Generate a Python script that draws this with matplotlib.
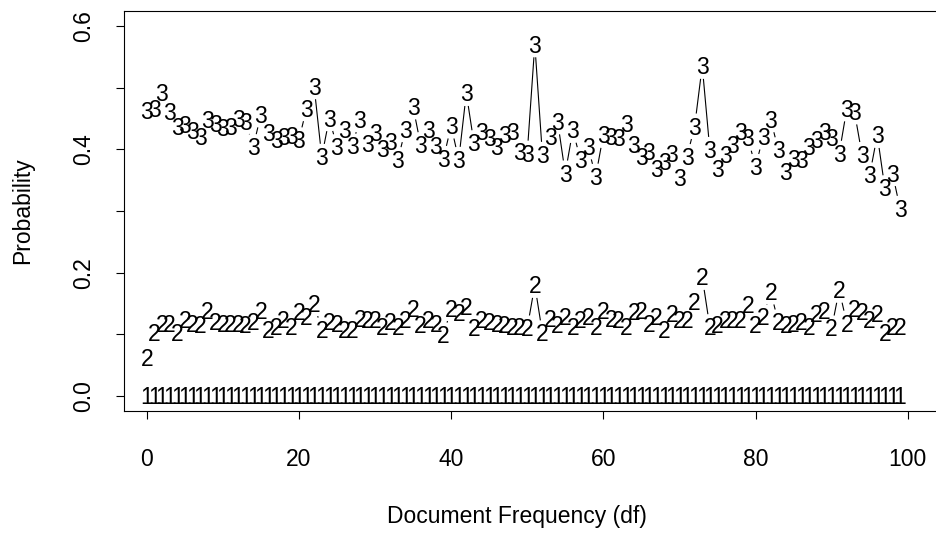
import numpy as np
import matplotlib
matplotlib.use("Agg")
import matplotlib.pyplot as plt
from matplotlib.collections import LineCollection
from matplotlib.transforms import offset_copy

plt.rcParams['font.family'] = ['Liberation Sans', 'DejaVu Sans']

df = np.arange(100)
p1 = [0.0] * 100
p2 = [0.062, 0.102, 0.118, 0.117, 0.102, 0.123, 0.118, 0.115, 0.139, 0.120,
      0.118, 0.118, 0.117, 0.115, 0.120, 0.139, 0.107, 0.112, 0.123, 0.112,
      0.137, 0.128, 0.150, 0.107, 0.120, 0.118, 0.107, 0.107, 0.126, 0.123,
      0.123, 0.112, 0.120, 0.112, 0.123, 0.142, 0.115, 0.123, 0.118, 0.099,
      0.142, 0.135, 0.145, 0.110, 0.123, 0.120, 0.118, 0.115, 0.112, 0.112,
      0.110, 0.180, 0.102, 0.126, 0.115, 0.128, 0.112, 0.123, 0.128, 0.112,
      0.139, 0.126, 0.123, 0.112, 0.137, 0.139, 0.118, 0.128, 0.107, 0.134,
      0.123, 0.123, 0.153, 0.193, 0.112, 0.115, 0.123, 0.123, 0.123, 0.148,
      0.115, 0.128, 0.169, 0.120, 0.115, 0.118, 0.120, 0.112, 0.134, 0.139,
      0.110, 0.172, 0.118, 0.142, 0.137, 0.123, 0.134, 0.102, 0.112, 0.112]
p3 = [0.463, 0.466, 0.491, 0.461, 0.437, 0.440, 0.430, 0.420, 0.448, 0.442,
      0.434, 0.436, 0.449, 0.445, 0.404, 0.456, 0.426, 0.415, 0.420, 0.422,
      0.415, 0.466, 0.502, 0.388, 0.450, 0.404, 0.432, 0.405, 0.448, 0.409,
      0.427, 0.400, 0.412, 0.383, 0.432, 0.469, 0.407, 0.431, 0.405, 0.385,
      0.438, 0.383, 0.491, 0.410, 0.429, 0.419, 0.404, 0.423, 0.429, 0.396,
      0.393, 0.570, 0.391, 0.420, 0.445, 0.361, 0.431, 0.383, 0.404, 0.356,
      0.423, 0.420, 0.418, 0.442, 0.407, 0.388, 0.396, 0.369, 0.380, 0.393,
      0.353, 0.388, 0.437, 0.535, 0.399, 0.369, 0.391, 0.407, 0.429, 0.418,
      0.372, 0.420, 0.448, 0.399, 0.364, 0.385, 0.383, 0.404, 0.415, 0.429,
      0.418, 0.393, 0.466, 0.461, 0.391, 0.358, 0.423, 0.337, 0.361, 0.304]
series = [("1", p1), ("2", p2), ("3", p3)]

xticks = [0, 20, 40, 60, 80, 100]
yticks = [0.0, 0.1, 0.2, 0.3, 0.4, 0.5, 0.6]
ylabels = ["0.0", "", "0.2", "", "0.4", "", "0.6"]

W, H = 937, 533
fig = plt.figure(figsize=(W / 100, H / 100), dpi=100)
axL, axR, axT, axB = 124.3, 955.0, 11.0, 411.0
ax = fig.add_axes([axL / W, 1 - axB / H, (axR - axL) / W, (axB - axT) / H])
x0 = -(146.7 - 124.3) / 7.61
x1 = (axR - 146.7) / 7.61
ax.set_xlim(x0, x1)
ax.set_ylim(-0.024, 0.624)

fs = 16.5
gap = 13.0  # pixels
fig.canvas.draw()
for ch, vals in series:
    vals = np.asarray(vals)
    pts = ax.transData.transform(np.column_stack([df, vals]))
    segs = []
    for a, b in zip(pts[:-1], pts[1:]):
        d = b - a
        L = np.hypot(*d)
        if L > 2 * gap:
            u = d / L
            segs.append([a + u * gap, b - u * gap])
    if segs:
        segs_data = [ax.transData.inverted().transform(np.array(s)) for s in segs]
        ax.add_collection(LineCollection(segs_data, colors='black', linewidths=0.8))
    tr = offset_copy(ax.transData, fig=fig, y=-0.358 * fs, units='points')
    for xi, yi in zip(df, vals):
        ax.text(xi, yi, ch, fontsize=fs, ha='center', va='baseline', transform=tr)

ax.set_xticks(xticks)
ax.set_xticklabels([str(t) for t in xticks])
ax.set_yticks(yticks)
ax.set_yticklabels(ylabels, rotation=90, va='center')
ax.tick_params(axis='both', direction='out', length=5.8, width=0.8, labelsize=fs, colors='black')
ax.tick_params(axis='x', pad=21)
ax.tick_params(axis='y', pad=15)
for s in ['left', 'bottom', 'top', 'right']:
    ax.spines[s].set_linewidth(0.8)
    ax.spines[s].set_color('black')

fig.text(23 / W, 1 - 211 / H, "Probability", rotation=90, ha='center', va='center', fontsize=fs)
fig.text(517 / W, 1 - 517 / H, "Document Frequency (df)", ha='center', va='center', fontsize=fs)

fig.savefig("out.png", dpi=100)
